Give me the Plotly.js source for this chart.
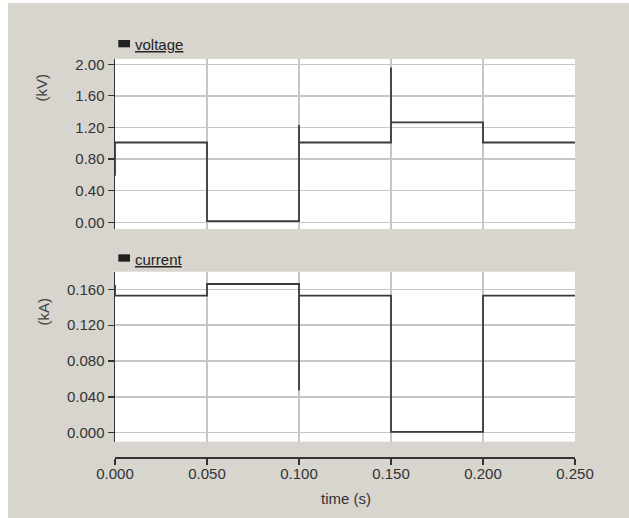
<!DOCTYPE html>
<html>
<head>
<meta charset="utf-8">
<script src="https://cdn.plot.ly/plotly-3.0.1.min.js"></script>
<style>
  html, body { margin: 0; padding: 0; background: #ffffff; }
  #chart { position: absolute; left: 8px; top: 3px; width: 621px; height: 515px; }
</style>
</head>
<body>
<div id="chart"></div>
<script>
// ---- data ----
const voltageTime  = [0, 0, 0.05, 0.05, 0.10, 0.10, 0.10, 0.15, 0.15, 0.15, 0.20, 0.20, 0.25];
const voltageKV    = [0.59, 1.01, 1.01, 0.015, 0.015, 1.23, 1.01, 1.01, 1.96, 1.265, 1.265, 1.01, 1.01];
const currentTime  = [0, 0, 0.05, 0.05, 0.10, 0.10, 0.10, 0.15, 0.15, 0.20, 0.20, 0.25];
const currentKA    = [0.165, 0.153, 0.153, 0.166, 0.166, 0.047, 0.153, 0.153, 0.001, 0.001, 0.153, 0.153];
const voltageTicks = [0, 0.4, 0.8, 1.2, 1.6, 2.0];
const currentTicks = [0, 0.04, 0.08, 0.12, 0.16];
const timeTicks    = [0, 0.05, 0.10, 0.15, 0.20, 0.25];
const seriesNames  = ["voltage", "current"];
const unitLabels   = ["(kV)", "(kA)"];
const timeLabel    = "time (s)";

const BG = "#d8d5cf";
const GRID = "#c6c6c6";
const INK = "#333333";
const LINE = "#3a3a3a";
const FONT = "Liberation Sans, Arial, sans-serif";

const traces = [
  { x: voltageTime, y: voltageKV, xaxis: "x", yaxis: "y", type: "scatter", mode: "lines",
    line: { color: LINE, width: 1.8 }, name: seriesNames[0], showlegend: false, hoverinfo: "skip" },
  { x: currentTime, y: currentKA, xaxis: "x2", yaxis: "y2", type: "scatter", mode: "lines",
    line: { color: LINE, width: 1.8 }, name: seriesNames[1], showlegend: false, hoverinfo: "skip" }
];

const commonX = {
  range: [0, 0.25], tickvals: timeTicks, showgrid: true, gridcolor: GRID, gridwidth: 1.5,
  zeroline: false
};
const commonY = {
  showgrid: true, gridcolor: GRID, gridwidth: 1.5, zeroline: false,
  showline: true, linecolor: INK, linewidth: 1.5,
  ticks: "outside", ticklen: 6, tickcolor: INK, tickwidth: 1.2,
  tickfont: { family: FONT, size: 15, color: INK }
};

const layout = {
  width: 621, height: 515,
  margin: { l: 107, r: 54, t: 0, b: 61 },
  paper_bgcolor: BG, plot_bgcolor: "#ffffff",
  font: { family: FONT, size: 15, color: INK },
  showlegend: false,
  xaxis: Object.assign({}, commonX, { anchor: "y", domain: [0, 1], showticklabels: false, ticks: "", showline: false }),
  yaxis: Object.assign({}, commonY, { anchor: "x", domain: [0.5022, 0.8767], range: [-0.085, 2.067],
    tickvals: voltageTicks, tickformat: ".2f" }),
  xaxis2: Object.assign({}, commonX, { anchor: "free", position: 0, domain: [0, 1],
    showline: true, linecolor: INK, linewidth: 1.5, ticks: "outside", ticklen: 6, tickcolor: INK, tickwidth: 1.2,
    ticklabelstandoff: -4,
    tickformat: ".3f", tickfont: { family: FONT, size: 15, color: INK } }),
  yaxis2: Object.assign({}, commonY, { anchor: "x2", domain: [0.0337, 0.4081], range: [-0.010, 0.1797],
    tickvals: currentTicks, tickformat: ".3f" }),
  shapes: [
    { type: "rect", xref: "paper", yref: "paper", x0: 0.0072, x1: 0.0326, y0: 0.9024, y1: 0.9185,
      fillcolor: "#222222", line: { width: 0 } },
    { type: "rect", xref: "paper", yref: "paper", x0: 0.0072, x1: 0.0326, y0: 0.4302, y1: 0.4465,
      fillcolor: "#222222", line: { width: 0 } }
  ],
  annotations: [
    { xref: "paper", yref: "paper", x: 0.0398, y: 0.9075, xanchor: "left", yanchor: "middle", showarrow: false,
      text: '<span style="text-decoration:underline">' + seriesNames[0] + '</span>', font: { family: FONT, size: 15, color: "#222" } },
    { xref: "paper", yref: "paper", x: 0.0398, y: 0.4361, xanchor: "left", yanchor: "middle", showarrow: false,
      text: '<span style="text-decoration:underline">' + seriesNames[1] + '</span>', font: { family: FONT, size: 15, color: "#222" } },
    { xref: "paper", yref: "paper", x: -0.1598, y: 0.815, xanchor: "center", yanchor: "middle", showarrow: false,
      textangle: -90, text: unitLabels[0], font: { family: FONT, size: 15, color: "#444" } },
    { xref: "paper", yref: "paper", x: -0.1554, y: 0.3194, xanchor: "center", yanchor: "middle", showarrow: false,
      textangle: -90, text: unitLabels[1], font: { family: FONT, size: 15, color: "#444" } },
    { xref: "paper", yref: "paper", x: 0.503, y: -0.091, xanchor: "center", yanchor: "middle", showarrow: false,
      text: timeLabel, font: { family: FONT, size: 15, color: INK } }
  ]
};

Plotly.newPlot("chart", traces, layout, { staticPlot: true, displayModeBar: false });
</script>
</body>
</html>
